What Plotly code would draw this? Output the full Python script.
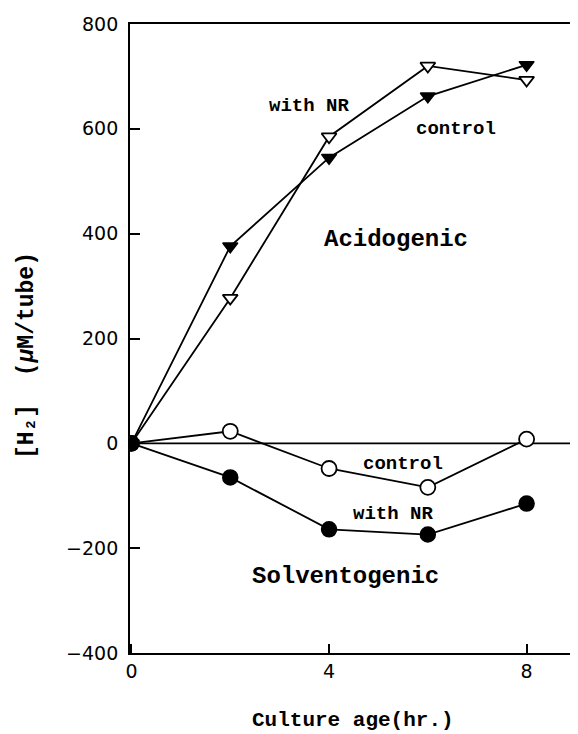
import plotly.graph_objects as go

hours = [0, 2, 4, 6, 8]
acid_with_nr = [0, 376, 545, 662, 722]
acid_control = [0, 277, 585, 720, 693]
solv_control = [0, 23, -48, -84, 8]
solv_with_nr = [0, -65, -164, -174, -115]

x_ticks = [0, 4, 8]
y_ticks = [-400, -200, 0, 200, 400, 600, 800]

LABEL_FONT = "Liberation Mono"
TICK_FONT = "DejaVu Sans"

fig = go.Figure()

line = dict(color="black", width=1.8)

fig.add_trace(go.Scatter(
    x=hours, y=acid_with_nr, mode="lines+markers", line=line,
    marker=dict(symbol="triangle-down", size=13, color="black",
                line=dict(color="black", width=1.5)),
    showlegend=False))
fig.add_trace(go.Scatter(
    x=hours, y=acid_control, mode="lines+markers", line=line,
    marker=dict(symbol="triangle-down", size=13, color="white",
                line=dict(color="black", width=1.8)),
    showlegend=False))
fig.add_trace(go.Scatter(
    x=hours, y=solv_control, mode="lines+markers", line=line,
    marker=dict(symbol="circle", size=15, color="white",
                line=dict(color="black", width=1.8)),
    showlegend=False))
fig.add_trace(go.Scatter(
    x=hours, y=solv_with_nr, mode="lines+markers", line=line,
    marker=dict(symbol="circle", size=15, color="black",
                line=dict(color="black", width=1.5)),
    showlegend=False))

# zero reference line
fig.add_shape(type="line", xref="x", yref="y", x0=0, x1=9, y0=0, y1=0,
              line=dict(color="black", width=1.8), layer="below")
# short right-border fragment
fig.add_shape(type="line", xref="x", yref="y", x0=8.99, x1=8.99, y0=-400, y1=-250,
              line=dict(color="black", width=1.2))

def label(text, x, y, size, bold=True):
    fig.add_annotation(x=x, y=y, xref="x", yref="y", showarrow=False,
                       text=f"<b>{text}</b>" if bold else text,
                       font=dict(family=LABEL_FONT, size=size, color="black"))

label("with NR", 3.6, 643, 19)
label("control", 6.57, 599, 19)
label("Acidogenic", 5.35, 389, 24)
label("control", 5.5, -40, 19)
label("with NR", 5.3, -135, 19)
label("Solventogenic", 4.34, -254, 24)

fig.add_annotation(xref="paper", yref="paper", x=(27 - 130) / 446, y=0.472,
                   xanchor="center", yanchor="middle",
                   textangle=-90, showarrow=False,
                   text="<b>[H₂]  (<i>μ</i>M/tube)</b>",
                   font=dict(family=LABEL_FONT, size=23, color="black"))
fig.add_annotation(xref="paper", yref="paper", x=0.5, y=(653 - 720) / 629,
                   xanchor="center", yanchor="middle",
                   showarrow=False, text="<b>Culture age(hr.)</b>",
                   font=dict(family=LABEL_FONT, size=21, color="black"))

fig.update_xaxes(range=[-0.03, 9.0], tickvals=x_ticks,
                 ticktext=[str(v) for v in x_ticks],
                 showline=True, linecolor="black", linewidth=1.8, mirror=True,
                 ticks="inside", ticklen=9, tickwidth=1.5, tickcolor="black",
                 showgrid=False, zeroline=False, ticklabelstandoff=0,
                 tickfont=dict(family=TICK_FONT, size=19, color="black"))
fig.update_yaxes(range=[-400, 800], tickvals=y_ticks,
                 ticktext=[str(v).replace("-", "\u2212") for v in y_ticks],
                 showline=True, linecolor="black", linewidth=1.8,
                 ticks="inside", ticklen=10, tickwidth=1.5, tickcolor="black",
                 showgrid=False, zeroline=False, ticklabelstandoff=6,
                 tickfont=dict(family=TICK_FONT, size=19, color="black"))

# page body has an 8px default margin, so the figure is offset by 8px
fig.update_layout(width=570, height=726,
                  margin=dict(l=122, r=2, t=16, b=81, autoexpand=False),
                  plot_bgcolor="white", paper_bgcolor="white")

fig.write_html("out.html")
